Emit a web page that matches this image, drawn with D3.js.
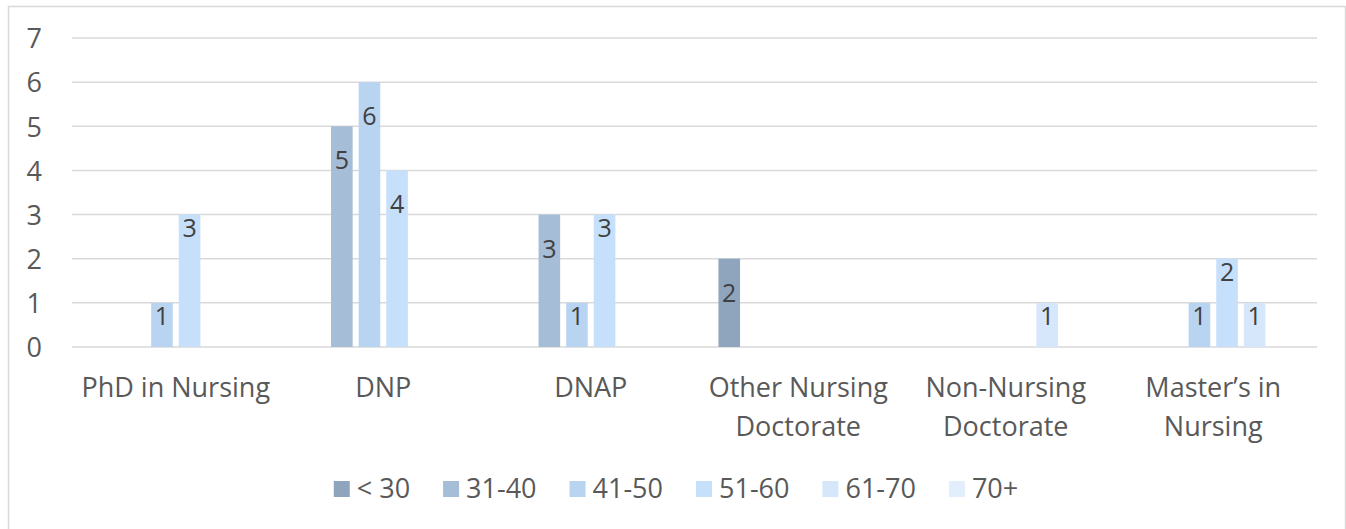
<!DOCTYPE html>
<html>
<head>
<meta charset="utf-8">
<script src="https://cdn.jsdelivr.net/npm/d3@7"></script>
<style>
  html, body { margin: 0; padding: 0; background: #ffffff; }
  svg { display: block; }
  text { font-family: "Open Sans", Lato, sans-serif; }
</style>
</head>
<body>
<svg id="chart" width="1346" height="529"></svg>
<script>
// Degree programs along the x axis
const categories = [
  "PhD in Nursing",
  "DNP",
  "DNAP",
  "Other Nursing Doctorate",
  "Non-Nursing Doctorate",
  "Master\u2019s in Nursing"
];

// Age groups (one bar per group inside each program)
const ageGroups = ["< 30", "31-40", "41-50", "51-60", "61-70", "70+"];

// Counts per age group, in the order of `categories` (null = no bar)
const under30  = [null, null, null, 2, null, null];
const age31_40 = [null, 5, 3, null, null, null];
const age41_50 = [1, 6, 1, null, null, 1];
const age51_60 = [3, 4, 3, null, null, 2];
const age61_70 = [null, null, null, null, 1, 1];
const age70up  = [null, null, null, null, null, null];

const yTicks = [0, 1, 2, 3, 4, 5, 6, 7];

const seriesValues = [under30, age31_40, age41_50, age51_60, age61_70, age70up];
const colors = ["#8EA5BD", "#A5BDD7", "#B9D4F1", "#C6E0FB", "#D6E7FB", "#E2EEFC"];

const FONT = 27;
const svg = d3.select("#chart");

// outer frame
svg.append("rect")
  .attr("x", 8.5).attr("y", 6.5)
  .attr("width", 1337).attr("height", 540)
  .attr("fill", "#ffffff")
  .attr("stroke", "#D9D9D9")
  .attr("stroke-width", 1.5);

const plot = { left: 72, right: 1317, top: 38, bottom: 347 };

const y = d3.scaleLinear().domain([0, 7]).range([plot.bottom, plot.top]);

const x0 = d3.scaleBand()
  .domain(categories)
  .range([plot.left, plot.right])
  .paddingInner(0.2308)
  .paddingOuter(0.1154);

const x1 = d3.scaleBand()
  .domain(ageGroups)
  .range([0, x0.bandwidth()])
  .paddingInner(0.217)
  .paddingOuter(0);

const color = d3.scaleOrdinal().domain(ageGroups).range(colors);

// horizontal gridlines
svg.append("g")
  .selectAll("line")
  .data(yTicks)
  .join("line")
  .attr("x1", plot.left).attr("x2", plot.right)
  .attr("y1", d => y(d)).attr("y2", d => y(d))
  .attr("stroke", "#D9D9D9")
  .attr("stroke-width", 1.5);

// y axis labels
const yAxis = d3.axisLeft(y).tickValues(yTicks).tickSize(0).tickPadding(0).tickFormat(d3.format("d"));
const yg = svg.append("g")
  .attr("transform", `translate(42,0)`)
  .call(yAxis);
yg.select(".domain").remove();
yg.selectAll("text")
  .attr("font-size", FONT)
  .attr("fill", "#595959")
  .attr("font-family", "'Open Sans', Lato, sans-serif")
  .attr("dy", "0.36em");

// bars
const barData = [];
categories.forEach((c, ci) => {
  ageGroups.forEach((g, gi) => {
    const v = seriesValues[gi][ci];
    if (v != null) barData.push({ category: c, group: g, gi, value: v });
  });
});

const bars = svg.append("g");
bars.selectAll("rect")
  .data(barData)
  .join("rect")
  .attr("x", d => x0(d.category) + x1(d.group))
  .attr("y", d => y(d.value))
  .attr("width", x1.bandwidth())
  .attr("height", d => y(0) - y(d.value))
  .attr("fill", d => color(d.group));

// value labels near the top of each bar; darker and taller bars carry theirs lower
const labelDrop = d => (d.value >= 4 || d.gi <= 1) ? 43 : 22;
bars.selectAll("text")
  .data(barData)
  .join("text")
  .attr("x", d => x0(d.category) + x1(d.group) + x1.bandwidth() / 2)
  .attr("y", d => y(d.value) + labelDrop(d))
  .attr("text-anchor", "middle")
  .attr("font-size", 25)
  .attr("fill", "#404040")
  .text(d => d.value);

// category labels, wrapped to the band width
const xAxisG = svg.append("g");
categories.forEach(c => {
  const cx = x0(c) + x0.bandwidth() / 2;
  const maxW = x0.step() - 4;
  const t = xAxisG.append("text")
    .attr("x", cx)
    .attr("y", 397)
    .attr("text-anchor", "middle")
    .attr("font-size", FONT)
    .attr("fill", "#595959");
  const words = c.split(" ");
  const lines = [];
  let cur = [];
  const probe = xAxisG.append("text").attr("font-size", FONT);
  words.forEach(w => {
    const attempt = cur.concat([w]).join(" ");
    probe.text(attempt);
    if (cur.length && probe.node().getComputedTextLength() > maxW) {
      lines.push(cur.join(" "));
      cur = [w];
    } else {
      cur.push(w);
    }
  });
  if (cur.length) lines.push(cur.join(" "));
  probe.remove();
  lines.forEach((ln, i) => {
    t.append("tspan")
      .attr("x", cx)
      .attr("y", 397 + i * 39)
      .text(ln);
  });
});

// legend, centred under the chart
const legend = svg.append("g");
const items = legend.selectAll("g")
  .data(ageGroups)
  .join("g");
items.append("rect")
  .attr("width", 16).attr("height", 16)
  .attr("y", 481)
  .attr("fill", d => color(d));
items.append("text")
  .attr("x", 23)
  .attr("y", 498)
  .attr("font-size", FONT)
  .attr("fill", "#595959")
  .text(d => d);

const itemGap = 33;
let offset = 0;
const positions = [];
items.each(function () {
  const tw = d3.select(this).select("text").node().getComputedTextLength();
  positions.push(offset);
  offset += 23 + tw + itemGap;
});
const total = offset - itemGap;
const startX = 676 - total / 2;
items.attr("transform", (d, i) => `translate(${startX + positions[i]},0)`);
</script>
</body>
</html>
